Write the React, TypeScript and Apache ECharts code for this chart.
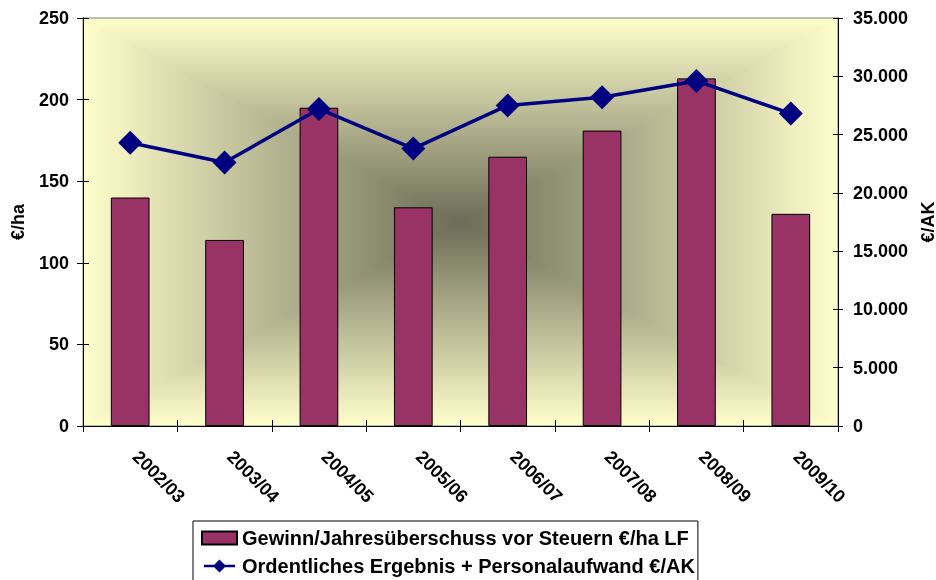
import React, { useEffect, useRef } from "react";
import * as echarts from "echarts";

const categories = ["2002/03", "2003/04", "2004/05", "2005/06", "2006/07", "2007/08", "2008/09", "2009/10"];
const gewinnPerHa = [140, 114, 195, 134, 165, 181, 213, 130];
const ergebnisPerAK = [24300, 22600, 27200, 23800, 27500, 28200, 29600, 26800];
const leftTicks = { min: 0, max: 250, interval: 50 };
const rightTicks = { min: 0, max: 35000, interval: 5000 };
const seriesNames = [
  "Gewinn/Jahresüberschuss vor Steuern €/ha LF",
  "Ordentliches Ergebnis + Personalaufwand €/AK",
];

const W = 936;
const H = 580;
const G = { left: 83, right: 98, top: 18, bottom: 154 };
const FONT = "Liberation Sans, Arial, sans-serif";
const LINE_LEGEND_ICON = "path://M0,6H36V9H0Z M18,0L25.5,7.5L18,15L10.5,7.5Z";

const fmtDot = (v: number) => String(v).replace(/\B(?=(\d{3})+(?!\d))/g, ".");

export default function App() {
  const ref = useRef<HTMLDivElement>(null);
  useEffect(() => {
    if (!ref.current) return;
    const chart = echarts.init(ref.current, null, { renderer: "svg" });
    const x0 = G.left, x1 = W - G.right, y0 = G.top, y1 = H - G.bottom;
    const cx = (x0 + x1) / 2, cy = (y0 + y1) / 2;
    const light = "#FFFFCC";
    const dark = "#6c6c57";
    const grad = (x: number, y: number, x2: number, y2: number) =>
      new echarts.graphic.LinearGradient(x, y, x2, y2, [
        { offset: 0, color: light },
        { offset: 1, color: dark },
      ]);
    const tri = (pts: number[][], g: [number, number, number, number]) => ({
      type: "polygon",
      z: -19,
      silent: true,
      shape: { points: pts },
      style: { fill: grad(...g), stroke: grad(...g), lineWidth: 1 },
    });
    const labelStyle = { fontFamily: FONT, fontWeight: "bold" as const, fontSize: 18, color: "#000" };
    const axisLine = { show: true, lineStyle: { color: "#000", width: 1 } };
    chart.setOption({
      animation: false,
      grid: {
        left: G.left,
        right: G.right,
        top: G.top,
        bottom: G.bottom,
        containLabel: false,
        outerBoundsMode: "none",
      },
      graphic: [
        { type: "rect", z: -20, silent: true, shape: { x: x0, y: y0, width: x1 - x0, height: y1 - y0 }, style: { fill: "#b3b195" } },
        tri([[x0, y0], [x1, y0], [cx, cy]], [0, 0, 0, 1]),
        tri([[x0, y1], [x1, y1], [cx, cy]], [0, 1, 0, 0]),
        tri([[x0, y0], [x0, y1], [cx, cy]], [0, 0, 1, 0]),
        tri([[x1, y0], [x1, y1], [cx, cy]], [1, 0, 0, 0]),
        { type: "rect", z: -18, silent: true, shape: { x: x0, y: y0, width: x1 - x0, height: y1 - y0 }, style: { fill: null, stroke: "#808080", lineWidth: 1 } },
      ],
      legend: {
        orient: "vertical",
        left: 193,
        top: 521,
        height: 120,
        padding: [7, 3, 8, 8],
        itemGap: 8,
        itemWidth: 35,
        itemHeight: 13,
        borderColor: "#000",
        borderWidth: 1,
        backgroundColor: "#fff",
        textStyle: { ...labelStyle, fontSize: 20 },
        data: [
          { name: seriesNames[0], icon: "rect" },
          { name: seriesNames[1], icon: LINE_LEGEND_ICON, itemStyle: { color: "#000080", borderWidth: 0 } },
        ],
      },
      xAxis: [
        {
          type: "category",
          data: categories,
          position: "bottom",
          boundaryGap: true,
          axisLine,
          axisTick: { show: true, length: 6, lineStyle: { color: "#000" } },
          axisLabel: { ...labelStyle, rotate: -45, margin: 22, interval: 0, padding: [0, 0, 0, 8] },
          splitLine: { show: false },
        },
        {
          type: "category",
          data: categories,
          position: "bottom",
          boundaryGap: true,
          axisLine: { show: false },
          axisTick: { show: true, inside: true, length: 6, lineStyle: { color: "#000" } },
          axisLabel: { show: false },
          splitLine: { show: false },
        },
      ],
      yAxis: [
        {
          type: "value",
          position: "left",
          ...leftTicks,
          name: "€/ha",
          nameLocation: "middle",
          nameRotate: 90,
          nameGap: 56,
          nameTextStyle: { ...labelStyle },
          axisLine,
          axisTick: { show: true, length: 6, lineStyle: { color: "#000" } },
          axisLabel: { ...labelStyle, margin: 14 },
          splitLine: { show: false },
        },
        {
          type: "value",
          position: "right",
          ...rightTicks,
          name: "€/AK",
          nameLocation: "middle",
          nameRotate: 90,
          nameGap: 76,
          nameTextStyle: { ...labelStyle },
          axisLine,
          axisTick: { show: true, length: 5, lineStyle: { color: "#000" } },
          axisLabel: { ...labelStyle, margin: 15, formatter: (v: number) => fmtDot(v) },
          splitLine: { show: false },
        },
        {
          type: "value",
          position: "left",
          ...leftTicks,
          axisLine: { show: false },
          axisTick: { show: true, inside: true, length: 6, lineStyle: { color: "#000" } },
          axisLabel: { show: false },
          splitLine: { show: false },
        },
        {
          type: "value",
          position: "right",
          ...rightTicks,
          axisLine: { show: false },
          axisTick: { show: true, inside: true, length: 5, lineStyle: { color: "#000" } },
          axisLabel: { show: false },
          splitLine: { show: false },
        },
      ],
      series: [
        {
          name: seriesNames[0],
          type: "bar",
          xAxisIndex: 0,
          yAxisIndex: 0,
          data: gewinnPerHa,
          barWidth: "41%",
          itemStyle: { color: "#993366", borderColor: "#000", borderWidth: 1 },
          z: 2,
        },
        {
          name: seriesNames[1],
          type: "line",
          xAxisIndex: 0,
          yAxisIndex: 1,
          data: ergebnisPerAK,
          symbol: "diamond",
          symbolSize: [24, 24],
          lineStyle: { color: "#000080", width: 3.5 },
          itemStyle: { color: "#000080" },
          z: 3,
        },
      ],
    });
    return () => chart.dispose();
  }, []);
  return <div ref={ref} style={{ position: "fixed", left: 0, top: 0, width: W, height: H }} />;
}
